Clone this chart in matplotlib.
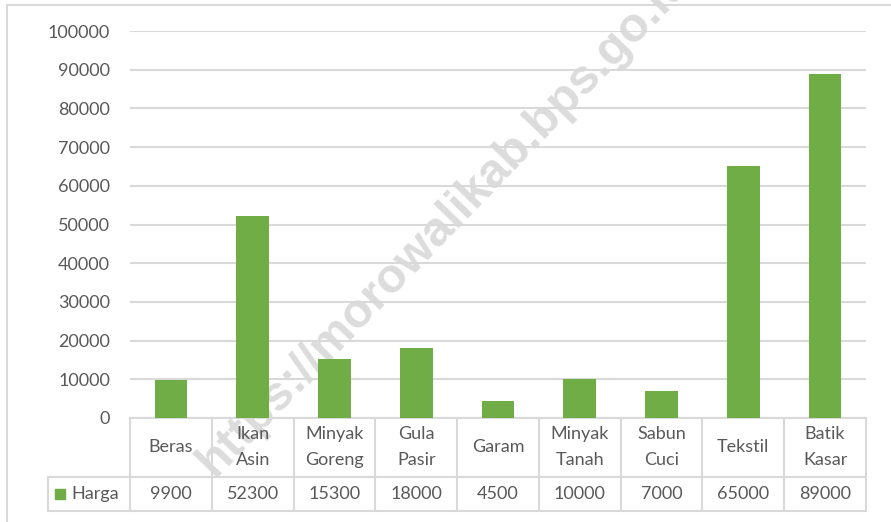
import matplotlib.pyplot as plt
from matplotlib.patches import Rectangle
from matplotlib.transforms import blended_transform_factory

# data
categories = ["Beras", "Ikan\nAsin", "Minyak\nGoreng", "Gula\nPasir", "Garam",
              "Minyak\nTanah", "Sabun\nCuci", "Tekstil", "Batik\nKasar"]
harga = [9900, 52300, 15300, 18000, 4500, 10000, 7000, 65000, 89000]
value_labels = ["9900", "52300", "15300", "18000", "4500", "10000", "7000", "65000", "89000"]
yticks = [0, 10000, 20000, 30000, 40000, 50000, 60000, 70000, 80000, 90000, 100000]
series_name = "Harga"

plt.rcParams['font.family'] = ['Lato', 'DejaVu Sans']
txt_color = '#595959'
line_color = '#d9d9d9'
bar_color = '#70AD47'

W, H = 891, 522
fig = plt.figure(figsize=(W / 100, H / 100), dpi=100)

def fx(px):
    return px / W

def fy(py):
    return 1 - py / H

# watermark behind everything
fig.text(fx(214), fy(478), "https://morowalikab.bps.go.id", rotation=46,
         rotation_mode='anchor', ha='left', va='baseline', fontsize=35,
         fontweight='bold', color='#dcdcdc', family='Liberation Sans', zorder=-5)

# outer chart border (bottom/right fall outside the image)
fig.add_artist(Rectangle((fx(7), fy(530)), fx(890), fy(5) - fy(530),
                         transform=fig.transFigure, fill=False,
                         edgecolor=line_color, lw=1.5, zorder=-4))

ax = fig.add_axes([fx(130), fy(418), fx(866) - fx(130), fy(31) - fy(418)])
ax.set_zorder(2)
ax.patch.set_alpha(0)
x = list(range(len(categories)))
ax.bar(x, harga, width=0.4, color=bar_color, zorder=3)
ax.set_xlim(-0.5, len(categories) - 0.5)
ax.set_ylim(0, 100000)
ax.set_yticks(yticks)
ax.set_yticklabels([str(v) for v in yticks])
ax.set_xticks([])
ax.grid(axis='y', color=line_color, lw=1.5, zorder=0)
for s in ax.spines.values():
    s.set_visible(False)
ax.tick_params(axis='y', length=0, pad=14.4, labelsize=13, labelcolor=txt_color)

# data table under the axis
tr = blended_transform_factory(ax.transData, fig.transFigure)
n = len(categories)
kw = dict(color=line_color, lw=1.5, clip_on=False, zorder=2)
for yy in (418, 477, 511):
    ax.plot([-0.5, n - 0.5], [fy(yy), fy(yy)], transform=tr, **kw)
for i in range(n + 1):
    ax.plot([i - 0.5, i - 0.5], [fy(418), fy(511)], transform=tr, **kw)
for yy in (477, 511):
    fig.add_artist(plt.Line2D([fx(48), fx(130)], [fy(yy), fy(yy)],
                              transform=fig.transFigure, color=line_color, lw=1.5))
fig.add_artist(plt.Line2D([fx(48), fx(48)], [fy(477), fy(511)],
                          transform=fig.transFigure, color=line_color, lw=1.5))

for i in x:
    ax.text(i, fy(447), categories[i], transform=tr, ha='center', va='center',
            fontsize=13, color=txt_color, linespacing=1.75)
    ax.text(i, fy(494), value_labels[i], transform=tr, ha='center', va='center',
            fontsize=13, color=txt_color)

# legend key in the table
fig.add_artist(Rectangle((fx(55), fy(499)), fx(10), fy(489) - fy(499),
                         transform=fig.transFigure, color=bar_color))
fig.text(fx(71), fy(494), series_name, ha='left', va='center', fontsize=13,
         color=txt_color)

fig.savefig('out.png', dpi=100)
